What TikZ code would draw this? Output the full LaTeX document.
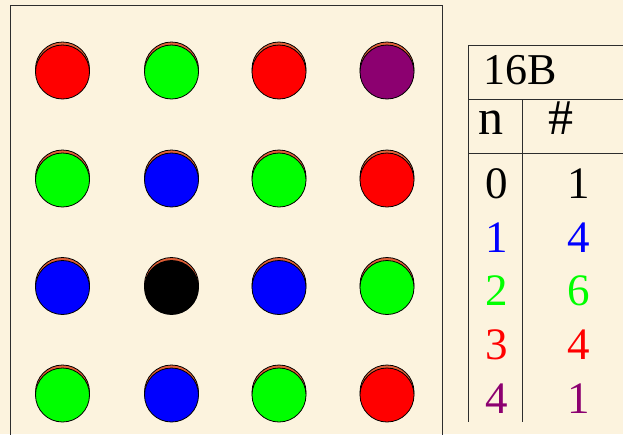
\documentclass[tikz,border=0pt]{standalone}
\usepackage{fontspec}
\setmainfont{Liberation Serif}
\definecolor{bg}{RGB}{252,243,222}
\definecolor{pur}{RGB}{140,0,112}
\definecolor{shad}{RGB}{225,95,55}
\definecolor{rulec}{RGB}{45,45,45}
\definecolor{rd}{RGB}{255,0,0}
\definecolor{gr}{RGB}{0,255,0}
\definecolor{bl}{RGB}{0,0,255}
\definecolor{bk}{RGB}{0,0,0}
\begin{document}
\begin{tikzpicture}[x=1pt,y=-1pt,
  dot/.style={circle, draw=black, line width=0.8pt, minimum size=54pt, inner sep=0pt},
  rulestyle/.style={draw=rulec, line width=1pt},
  big/.style={anchor=base, font=\fontsize{45}{45}\selectfont},
  head/.style={anchor=base, font=\fontsize{50}{50}\selectfont}]
\fill[bg] (0,0) rectangle (623,434);
\useasboundingbox (0,0) rectangle (623,434);
% left frame
\draw[rulestyle] (10.5,436) -- (10.5,5) -- (442.5,5) -- (442.5,436);
% dots
\foreach \c/\r/\col [count=\i] in {
  62.5/72/rd, 171.5/72/gr, 279/72/rd, 387/72/pur,
  62.5/180/gr, 171.5/180/bl, 279/180/gr, 387/180/rd,
  62.5/287.5/bl, 171.5/287.5/bk, 279/287.5/bl, 387/287.5/gr,
  62.5/395/gr, 171.5/395/bl, 279/395/gr, 387/395/rd} {
  \node[dot, fill=shad] (s\i) at (\c,\r-3) {};
  \node[dot, fill=\col] (d\i) at (\c,\r) {};
}
% table
\draw[rulestyle] (623,45) -- (468.3,45) -- (468.3,422);
\draw[rulestyle] (468.3,99) -- (623,99);
\draw[rulestyle] (468.3,153) -- (623,153);
\draw[rulestyle] (522.5,99) -- (522.5,422);
\node[anchor=base, font=\fontsize{44}{44}\selectfont] (title) at (520.5,84) {16B};
\node[head] (hn) at (491,134) {n};
\node[head] (hh) at (561,134) {\#};
\foreach \n/\k/\col/\y [count=\i] in {0/1/black/198, 1/4/bl/252, 2/6/gr/305.5, 3/4/rd/359, 4/1/pur/413} {
  \node[big, text=\col] (n\i) at (497,\y) {\n};
  \node[big, text=\col] (k\i) at (579,\y) {\k};
}
\end{tikzpicture}
\end{document}
